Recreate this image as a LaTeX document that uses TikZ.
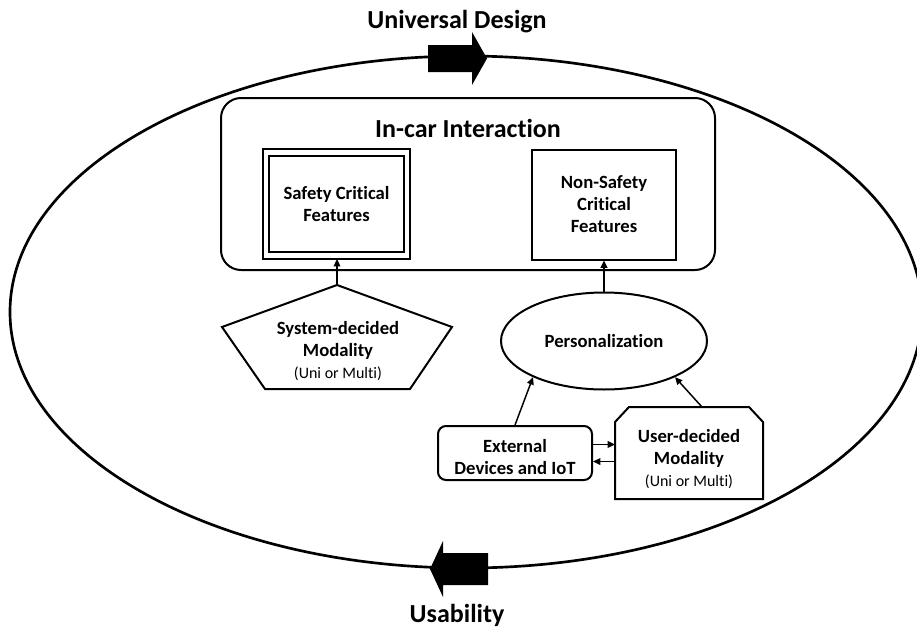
\documentclass[tikz,border=0pt]{standalone}
\usepackage{fontspec}
\setmainfont{Carlito}[Ligatures=NoCommon]
\usetikzlibrary{shapes.geometric,arrows.meta}

\begin{document}
\begin{tikzpicture}[x=0.75pt,y=-0.75pt,
    box/.style={draw, line width=1.5pt, align=center, font=\fontsize{14}{16.5}\selectfont\bfseries},
    boxtext/.style={align=center, font=\fontsize{14}{16.5}\selectfont\bfseries},
    heading/.style={anchor=base, font=\fontsize{19.5}{23}\selectfont\bfseries},
    link/.style={line width=1.1pt, -{Triangle[length=5.5pt,width=5pt]}}]

    \useasboundingbox (0,0) rectangle (917,628);

    % outer ellipse with the two block arrows
    \node[draw, ellipse, line width=2pt, minimum width=684pt, minimum height=384pt] (outer) at (466,312) {};
    \fill (428,45) -- ++(44,0) -- ++(0,-13) -- ++(15,26.5) -- ++(-15,26.5) -- ++(0,-13) -- ++(-44,0) -- cycle;
    \fill (488,553) -- ++(-45,0) -- ++(0,-12) -- ++(-13,28) -- ++(13,28) -- ++(0,-12) -- ++(45,0) -- cycle;
    \node[heading] (design) at (457,28) {Universal Design};
    \node[heading] (usab) at (457,622) {Usability};

    % interaction frame
    \node[draw, line width=1.5pt, rounded corners=15pt, minimum width=370.5pt, minimum height=129pt] (incar) at (468,184) {};
    \node[heading] (incartitle) at (468,137) {In-car Interaction};

    \node[box, double, double distance=3.4pt, outer sep=2.5pt, minimum width=105.75pt, minimum height=77.6pt] (safety) at (336.5,204) {Safety Critical\\Features};
    \node[box, minimum width=108pt, minimum height=82.5pt] (nonsafety) at (604,204.5) {Non-Safety\\Critical\\Features};

    % system-decided modality (pentagon)
    \coordinate (systop) at (337,285);
    \draw[line width=1.5pt] (systop) -- (452,327) -- (410,389) -- (265,389) -- (222,327) -- cycle;
    \node[boxtext] (sysmod) at (338,351)
        {System-decided\\Modality\\{\fontsize{12}{14}\selectfont\mdseries (Uni or Multi)}};
    \draw[link] (systop) -- (systop |- safety.south);

    % personalization
    \node[box, ellipse, minimum width=154.5pt, minimum height=72.75pt] (pers) at (604,341) {Personalization};
    \draw[link] (pers.north) -- (nonsafety.south);

    \node[box, rounded corners=6pt, minimum width=115.5pt, minimum height=40.5pt] (ext) at (515,453) {};
    \node[boxtext] (exttext) at (515,457.5) {External\\Devices and IoT};

    \node[minimum width=109.5pt, minimum height=67.5pt, outer sep=0.75pt] (usermod) at (689,453) {};
    \draw[line width=1.5pt] (usermod.south west) -- ([yshift=-11.25pt]usermod.north west)
        -- ([xshift=10.5pt]usermod.north west) -- ([xshift=-10.5pt]usermod.north east)
        -- ([yshift=-11.25pt]usermod.north east) -- (usermod.south east) -- cycle;
    \node[boxtext] (usertext) at (689,459)
        {User-decided\\Modality\\{\fontsize{12}{14}\selectfont\mdseries (Uni or Multi)}};

    \draw[link] (ext.north) -- (pers.207);
    \draw[link] ([xshift=9.75pt]usermod.north) -- (pers.333);
    \draw[link] ([yshift=6.4pt]ext.east) -- ([yshift=6.4pt]usermod.west);
    \draw[link] ([yshift=-6.4pt]usermod.west) -- ([yshift=-6.4pt]ext.east);

\end{tikzpicture}
\end{document}
